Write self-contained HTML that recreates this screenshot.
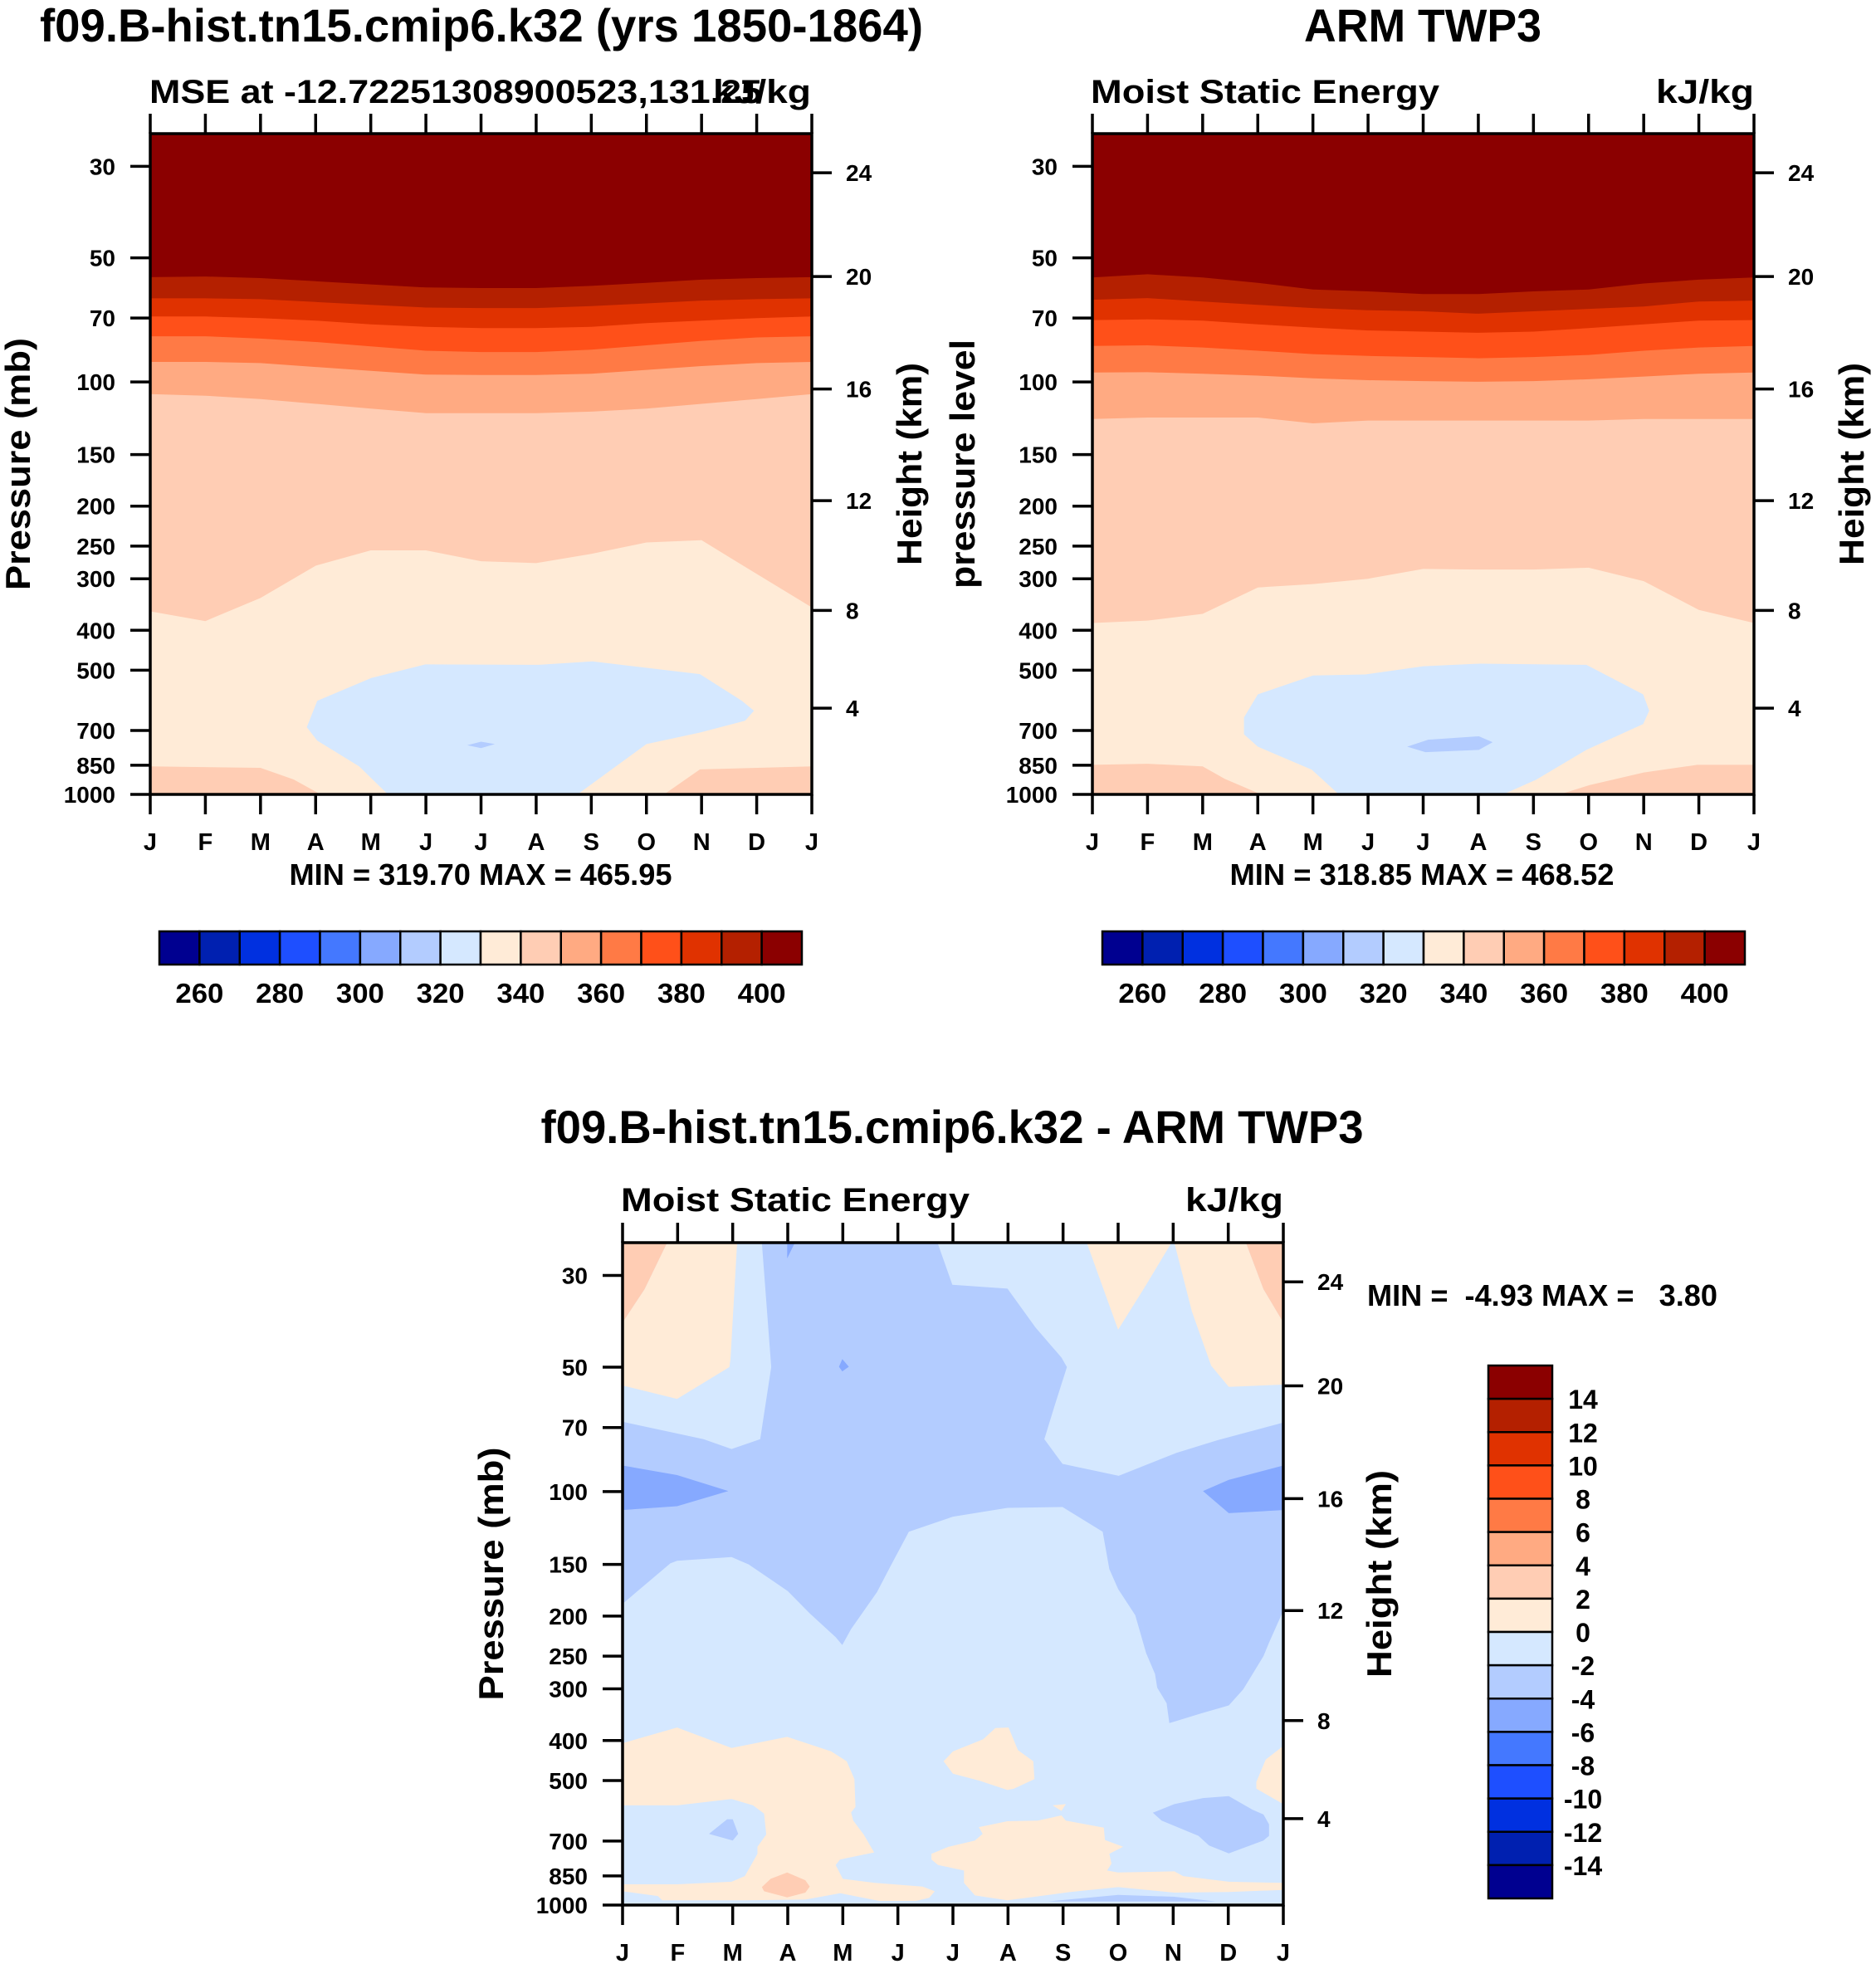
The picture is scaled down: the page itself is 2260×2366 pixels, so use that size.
<!DOCTYPE html>
<html><head><meta charset="utf-8">
<style>
html,body{margin:0;padding:0;background:#fff;}
svg{display:block;}
text{font-family:"Liberation Sans",Arial,sans-serif;font-weight:bold;fill:#000;}
</style></head>
<body>
<svg id="fig" width="2260" height="2366" viewBox="0 0 2260 2366" xmlns="http://www.w3.org/2000/svg">
<rect x="0" y="0" width="2260" height="2366" fill="#fff"/>
<g id="content"></g>
</svg>
<script>
// ---------- data ----------
const monthLabels = ["J","F","M","A","M","J","J","A","S","O","N","D","J"];
const pressureTicks = [30,50,70,100,150,200,250,300,400,500,700,850,1000];
const heightTickLabels = ["24","20","16","12","8","4"];
const heightTickPressures = [31.1,55.5,104,194,358,618];
const mseColors = ["#000090","#0020b0","#0030e0","#1e4fff","#4478ff","#86a9ff","#b3ccff","#d5e8ff","#ffebd7","#ffcdb4","#ffaa82","#ff7a45","#ff5019","#e03200","#b42000","#8b0000"];
const mseCbLabels = ["260","280","300","320","340","360","380","400"];
const diffCbLabels = ["14","12","10","8","6","4","2","0","-2","-4","-6","-8","-10","-12","-14"];

const modelB400 = [55.7,55.5,56,57,58,59,59.2,59.2,58.5,57.5,56.5,56,55.7];
const modelB390 = [62.7,62.7,63,64,65,66,66.2,66.2,65.5,64.5,63.5,63,62.7];
const modelB380 = [69.4,69.4,70,71,72.5,73.5,74,74,73.5,72,71,70,69.4];
const modelB370 = [77.5,77.5,78.5,80,82,84,84.6,84.6,83.5,81.5,79.5,78,77.5];
const modelB360 = [89.4,89.4,90,92,94,96,96.2,96.2,95.5,93.5,91.5,90,89.4];
const modelB350 = [107,108,110,113,116,119,119,119,118,116,113,110,107];
const modelB340 = [360,380,334,279,256,256,272,275,261,245,242,292,352];
const modelBlob330 = [[2.84,687],[3.03,593],[4.01,522],[4.99,484],[7.05,485],[8.02,476],[9.97,511],[10.73,593],[10.95,627],[10.79,663],[9.97,708],[9.0,755],[7.75,1000],[4.31,1000],[3.79,855],[3.03,741]];
const modelBlob320 = [[5.75,760],[6.0,745],[6.25,755],[6.0,772]];
const modelLow350L = [[0,855],[2.0,862],[2.6,920],[3.09,1000],[0,1000]];
const modelLow350R = [[9.32,1000],[9.97,870],[12,855],[12,1000]];

const obsB400 = [55.8,54.8,55.8,57.5,59.7,60.3,61.2,61.2,60.3,59.7,57.7,56.5,55.8];
const obsB390 = [63.2,62.6,63.8,65,66.2,67,67.4,68.3,67.4,66.5,65.6,63.8,63.5];
const obsB380 = [70.8,70.5,71,72.5,73.8,75,75.5,76,75.5,74,72.5,71,70.8];
const obsB370 = [81.8,81.5,82.5,84,85.6,86.5,87,87.6,87,86,84,82.5,81.8];
const obsB360 = [94.9,94.7,95.5,96.5,98,99,99.5,99.9,99.5,98.5,97,95.5,94.9];
const obsB350 = [123,122,122,122,126,124,124,124,124,124,123,123,123];
const obsB340 = [384,379,365,315,309,300,284,285,285,282,304,357,384];
const obsBlob330 = [[2.75,651],[3.0,572],[4.0,515],[4.95,512],[6.0,489],[7.03,482],[8.96,485],[9.99,572],[10.1,627],[9.99,675],[8.96,780],[8.05,921],[7.45,1000],[4.47,1000],[3.98,871],[3.0,766],[2.75,715]];
const obsBlob320 = [[5.71,766],[6.09,737],[7.01,723],[7.26,747],[7.01,780],[6.04,790]];
const obsLow350L = [[0,848],[1,843],[2,855],[2.4,917],[3.06,1000],[0,1000]];
const obsLow350R = [[8.48,1000],[9.02,949],[10.0,885],[10.97,848],[12,848],[12,1000]];

const diffBlue4 = [[2.53,25],[5.72,25],[5.99,31.6],[6.99,32.3],[7.50,40.1],[7.97,47.4],[8.07,50],[7.85,61.8],[7.66,74.7],[7.99,85.7],[9.01,91.6],[10.06,80.6],[10.81,75.1],[12,68.1],[12,194],[11.74,232],[11.64,250],[11.27,301],[11.01,329],[10.50,344],[10.02,360],[9.93,363],[9.88,325],[9.71,298],[9.67,276],[9.51,246],[9.31,199],[9.0,172],[8.84,154],[8.72,125],[7.99,109],[6.99,109.5],[6.0,115],[5.20,125],[4.86,152],[4.62,175],[4.15,215],[3.99,235],[3.87,225],[3.40,197],[3.0,174],[2.29,150],[1.98,144],[0.99,147],[0.87,149],[0,186.8],[0,67.8],[1.47,74.7],[1.98,78.9],[2.50,74.7],[2.70,50],[2.53,25]];
const diffBlue6L = [[0,86.5],[0.99,91.2],[1.92,99.7],[0.99,108.5],[0,110.8]];
const diffBlue6R = [[10.54,99.7],[11.01,93.7],[12,86.5],[12,110.8],[11.01,112.8]];
const diffBlue6Top = [[2.99,25],[3.13,25],[2.99,27.3]];
const diffBlue6Dot = [[3.99,47.8],[4.11,49.9],[3.99,51.2],[3.93,49.9]];
const diffPeachTL = [[0.81,25],[2.08,25],[1.96,47.8],[1.94,50],[0.99,59.7],[0,55.4],[0,39.0],[0.40,32.4]];
const diffPeach2TL = [[0,25],[0.81,25],[0.40,32.4],[0,39.0]];
const diffPeachTM = [[8.43,25],[9.97,25],[9.51,31.6],[9.0,40.6]];
const diffPeachTR = [[10.02,25],[11.32,25],[11.64,32.4],[12,39.0],[12,55.1],[11.01,55.8],[10.69,49.6],[10.34,36.7]];
const diffPeach2TR = [[11.32,25],[12,25],[12,39.0],[11.64,32.4]];
const diffPeachLow = [[0,406],[0.99,372],[1.98,417],[2.99,392],[3.79,425],[4.07,449],[4.21,496],[4.23,579],[4.15,597],[4.19,625],[4.38,675],[4.57,746],[3.95,776],[3.87,800],[4.0,864],[4.58,884],[5.45,902],[5.67,926],[5.57,960],[5.33,977],[4.66,977],[3.95,936],[3.32,970],[2.22,974],[0.72,974],[0.64,951],[0,926],[0,891],[0.99,891],[1.98,878],[2.22,851],[2.45,752],[2.45,723],[2.61,675],[2.57,601],[2.37,574],[1.98,554],[0.99,574],[0,574]];
const diffPeach2Low = [[2.53,905],[2.69,864],[2.99,834],[3.32,871],[3.40,902],[3.32,933],[2.99,958],[2.57,926]];
const diffBlueSmallL = [[1.57,673],[1.90,620],[2.0,620],[2.10,673],[2.0,698]];
const diffPeachMidUp = [[5.83,449],[6.0,425],[6.55,397],[6.77,373],[7.01,372],[7.18,422],[7.46,449],[7.48,496],[7.11,523],[6.99,527],[6.48,500],[6.0,481]];
const diffPeachRightEdge = [[12,412],[11.68,445],[11.51,504],[11.51,523],[12,570]];
const diffPeachMidLow = [[5.61,752],[5.92,723],[6.40,698],[6.54,673],[6.47,648],[6.99,627],[7.54,625],[7.97,607],[8.05,625],[8.74,650],[8.76,696],[9.09,723],[8.84,752],[8.88,794],[8.80,825],[9.0,834],[10.02,829],[10.18,851],[11.01,878],[12,884],[12,919],[11.01,930],[10.02,933],[9.0,905],[8.13,930],[6.99,974],[6.40,948],[6.20,884],[6.20,825],[5.73,800],[5.61,776]];
const diffPeachTiny = [[7.81,574],[8.05,570],[7.97,592]];
const diffBlueLR = [[9.63,598],[10.02,570],[10.54,551],[11.01,545],[11.44,588],[11.64,604],[11.74,638],[11.74,680],[11.64,698],[11.01,750],[10.65,718],[10.46,680],[9.79,625]];
const diffBlueBottom = [[7.73,980],[9.0,945],[10.02,955],[10.77,980]];

// ---------- drawing helpers ----------
const NS = "http://www.w3.org/2000/svg";
const root = document.getElementById("content");
function el(tag, attrs, parent){
  const e = document.createElementNS(NS, tag);
  for (const k in attrs) e.setAttribute(k, attrs[k]);
  (parent||root).appendChild(e);
  return e;
}
function txt(str, x, y, size, anchor, parent, extra){
  const t = el("text", Object.assign({x:x, y:y, "font-size":size, "text-anchor":anchor||"start"}, extra||{}), parent);
  t.textContent = str;
  return t;
}
const P_TOP = 25, P_BOT = 1000;
function makeAxes(x0, y0, w, h){
  const lt = Math.log10(P_TOP), lb = Math.log10(P_BOT);
  return {
    x: m => x0 + m/12*w,
    y: p => y0 + (Math.log10(p)-lt)/(lb-lt)*h,
    x0:x0, y0:y0, w:w, h:h
  };
}
function polyPts(ax, pts){ return pts.map(q => ax.x(q[0]).toFixed(1)+","+ax.y(q[1]).toFixed(1)).join(" "); }
function region(g, ax, pts, color, name){
  const e = el("polygon", {points: polyPts(ax, pts), fill: color}, g);
  
  
  return e;
}
function band(g, ax, boundary, color, name){
  const pts = boundary.map((p,i)=>[i,p]);
  pts.push([12,P_BOT]); pts.push([0,P_BOT]);
  return region(g, ax, pts, color, name);
}
function frame(g, ax, rightTitle, leftTitle, titleRightX, titleLeftX){
  const {x0,y0,w,h} = ax;
  const b = el("rect", {x:x0, y:y0, width:w, height:h, fill:"none", stroke:"#000", "stroke-width":3.5}, g);
   
  for (let i=0;i<13;i++){
    const xx = ax.x(i);
    el("line",{x1:xx,y1:y0,x2:xx,y2:y0-24,stroke:"#000","stroke-width":3.5},g);
    el("line",{x1:xx,y1:y0+h,x2:xx,y2:y0+h+24,stroke:"#000","stroke-width":3.5},g);
    const t = txt(monthLabels[i], xx, y0+h+67, 29, "middle", g);
     
  }
  pressureTicks.forEach(p=>{
    const yy = ax.y(p);
    el("line",{x1:x0,y1:yy,x2:x0-24,y2:yy,stroke:"#000","stroke-width":3.5},g);
    const t = txt(String(p), x0-42, yy+10, 28, "end", g);
     
  });
  heightTickPressures.forEach((p,i)=>{
    const yy = ax.y(p);
    el("line",{x1:x0+w,y1:yy,x2:x0+w+24,y2:yy,stroke:"#000","stroke-width":3.5},g);
    const t = txt(heightTickLabels[i], x0+w+41, yy+10, 28, "start", g);
     
  });
  const lt = txt(leftTitle[0], 0, 0, 42, "middle", g, {transform:`translate(${titleLeftX+15},${y0+h/2}) rotate(-90)`, textLength:leftTitle[1], lengthAdjust:"spacingAndGlyphs"});
   
  const rt = txt(rightTitle[0], 0, 0, 42, "middle", g, {transform:`translate(${titleRightX+15},${y0+h/2}) rotate(-90)`, textLength:rightTitle[1], lengthAdjust:"spacingAndGlyphs"});
   
}
function hColorbar(g, x0, y0, w, h){
  const bw = w/16;
  mseColors.forEach((c,i)=>{
    const r = el("rect",{x:x0+i*bw,y:y0,width:bw,height:h,fill:c,stroke:"#000","stroke-width":2.5},g);
     
  });
  mseCbLabels.forEach((s,i)=>{
    const t = txt(s, x0+(1+2*i)*bw, y0+h+46, 33, "middle", g, {textLength:58, lengthAdjust:"spacingAndGlyphs"});
     
  });
}
function msePanel(name, x0, bounds, blob1, blob2, lowL, lowR, titles){
  const g = el("g",{});
  
  
  const ax = makeAxes(x0, 161, 797, 796);
  el("rect",{x:x0,y:161,width:797,height:796,fill:mseColors[15]},g);
  const bandColors = [mseColors[14],mseColors[13],mseColors[12],mseColors[11],mseColors[10],mseColors[9],mseColors[8]];
  bounds.forEach((b,i)=> band(g, ax, b, bandColors[i], "contour-band"));
  region(g, ax, blob1, mseColors[7], "contour-330");
  region(g, ax, blob2, mseColors[6], "contour-320");
  region(g, ax, lowL, mseColors[9], "contour-340-low");
  region(g, ax, lowR, mseColors[9], "contour-340-low");
  frame(g, ax, titles.right, titles.left, titles.rightX, titles.leftX);
  return {g, ax};
}

// ---------- titles ----------
let t;
t = txt("f09.B-hist.tn15.cmip6.k32 (yrs 1850-1864)", 580, 50, 56, "middle", null, {textLength:1064, lengthAdjust:"spacingAndGlyphs"});
 
t = txt("ARM TWP3", 1714, 50, 56, "middle", null, {textLength:286, lengthAdjust:"spacingAndGlyphs"});
 
t = txt("MSE at -12.72251308900523,131.25", 180, 124, 40, "start", null, {textLength:738, lengthAdjust:"spacingAndGlyphs"});
 
t = txt("kJ/kg", 977, 124, 40, "end", null, {textLength:118, lengthAdjust:"spacingAndGlyphs"});
 
t = txt("Moist Static Energy", 1314, 124, 40, "start", null, {textLength:420, lengthAdjust:"spacingAndGlyphs"});
 
t = txt("kJ/kg", 2113, 124, 40, "end", null, {textLength:118, lengthAdjust:"spacingAndGlyphs"});
 

msePanel("model-panel", 181, [modelB400,modelB390,modelB380,modelB370,modelB360,modelB350,modelB340], modelBlob330, modelBlob320, modelLow350L, modelLow350R,
  {left:["Pressure (mb)",304], leftX:21, right:["Height (km)",244], rightX:1095});
msePanel("obs-panel", 1316, [obsB400,obsB390,obsB380,obsB370,obsB360,obsB350,obsB340], obsBlob330, obsBlob320, obsLow350L, obsLow350R,
  {left:["pressure level",300], leftX:1159, right:["Height (km)",244], rightX:2230});

t = txt("MIN = 319.70 MAX = 465.95", 579, 1066, 36, "middle", null, {textLength:461, lengthAdjust:"spacingAndGlyphs"});
 
t = txt("MIN = 318.85 MAX = 468.52", 1713, 1066, 36, "middle", null, {textLength:463, lengthAdjust:"spacingAndGlyphs"});
 

const cb1 = el("g",{});  
hColorbar(cb1, 192, 1122, 774, 40);
const cb2 = el("g",{});  
hColorbar(cb2, 1328, 1122, 774, 40);

// ---------- difference panel ----------
t = txt("f09.B-hist.tn15.cmip6.k32 - ARM TWP3", 1147, 1377, 56, "middle", null, {textLength:991, lengthAdjust:"spacingAndGlyphs"});
 
t = txt("Moist Static Energy", 748, 1459, 40, "start", null, {textLength:420, lengthAdjust:"spacingAndGlyphs"});
 
t = txt("kJ/kg", 1546, 1459, 40, "end", null, {textLength:118, lengthAdjust:"spacingAndGlyphs"});
 

const gd = el("g",{});  
const axd = makeAxes(750, 1497, 796, 798);
el("rect",{x:750,y:1497,width:796,height:798,fill:"#d5e8ff"},gd);
region(gd, axd, diffBlue4, "#b3ccff", "contour-minus4");
region(gd, axd, diffBlue6L, "#86a9ff", "contour-minus6");
region(gd, axd, diffBlue6R, "#86a9ff", "contour-minus6");
region(gd, axd, diffBlue6Top, "#86a9ff", "contour-minus6");
region(gd, axd, diffBlue6Dot, "#86a9ff", "contour-minus6");
region(gd, axd, diffPeachTL, "#ffebd7", "contour-plus0");
region(gd, axd, diffPeach2TL, "#ffcdb4", "contour-plus2");
region(gd, axd, diffPeachTM, "#ffebd7", "contour-plus0");
region(gd, axd, diffPeachTR, "#ffebd7", "contour-plus0");
region(gd, axd, diffPeach2TR, "#ffcdb4", "contour-plus2");
region(gd, axd, diffPeachLow, "#ffebd7", "contour-plus0");
region(gd, axd, diffPeach2Low, "#ffcdb4", "contour-plus2");
region(gd, axd, diffBlueSmallL, "#b3ccff", "contour-minus4");
region(gd, axd, diffPeachMidUp, "#ffebd7", "contour-plus0");
region(gd, axd, diffPeachRightEdge, "#ffebd7", "contour-plus0");
region(gd, axd, diffPeachMidLow, "#ffebd7", "contour-plus0");
region(gd, axd, diffPeachTiny, "#ffebd7", "contour-plus0");
region(gd, axd, diffBlueLR, "#b3ccff", "contour-minus4");
region(gd, axd, diffBlueBottom, "#b3ccff", "contour-minus4");
el("rect",{x:750,y:axd.y(990),width:796,height:axd.y(1000)-axd.y(990),fill:"#eef5ff"},gd);
frame(gd, axd, ["Height (km)",250], ["Pressure (mb)",305], 1661, 591);

t = txt("MIN =\u00a0\u00a0-4.93 MAX =\u00a0\u00a0\u00a03.80", 1858, 1573, 36, "middle", null, {textLength:422, lengthAdjust:"spacingAndGlyphs"});
 

const cb3 = el("g",{});  
(function(){
  const x0=1793, y0=1645, w=77, h=642, bh=h/16;
  for (let i=0;i<16;i++){
    const r = el("rect",{x:x0,y:y0+i*bh,width:w,height:bh,fill:mseColors[15-i],stroke:"#000","stroke-width":2.5},cb3);
     
  }
  diffCbLabels.forEach((s,i)=>{
    const tt = txt(s, 1907, y0+(i+1)*bh+12, 32, "middle", cb3);
     
  });
})();
</script>
</body></html>
